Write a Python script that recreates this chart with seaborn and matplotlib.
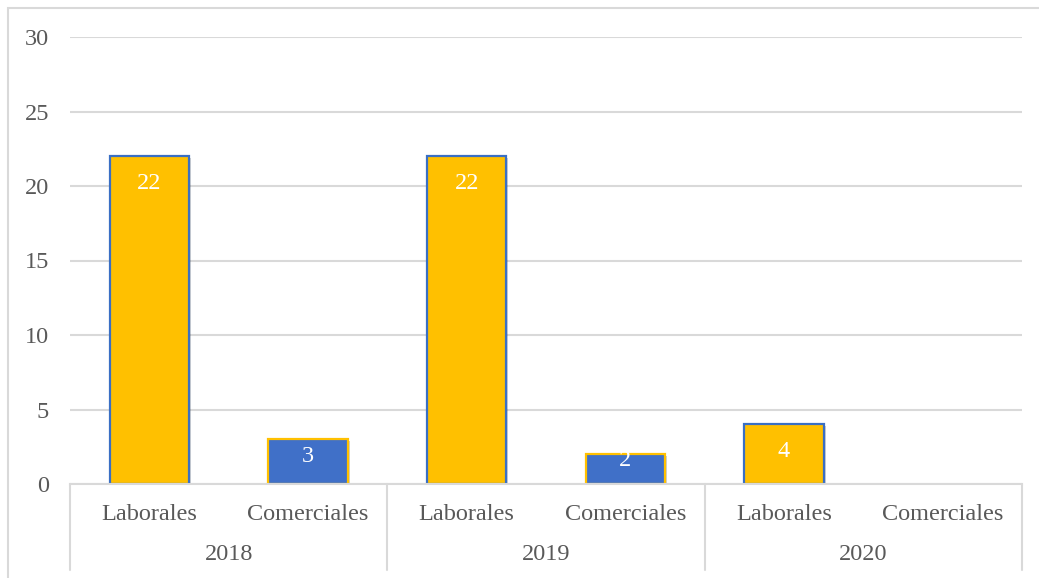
import matplotlib
matplotlib.use("Agg")
import matplotlib.pyplot as plt
import matplotlib.patheffects as pe
import matplotlib.transforms as mtransforms
from matplotlib.patches import Rectangle
import seaborn as sns
import pandas as pd

# Data
years = ["2018", "2019", "2020"]
tipos = ["Laborales", "Comerciales"]
laborales = [22, 22, 4]
comerciales = [3, 2, 0]
y_ticks = [0, 5, 10, 15, 20, 25, 30]

rows = []
for i, yr in enumerate(years):
    rows.append({"slot": f"{yr} Laborales", "anio": yr, "tipo": "Laborales", "valor": laborales[i]})
    rows.append({"slot": f"{yr} Comerciales", "anio": yr, "tipo": "Comerciales", "valor": comerciales[i]})
df = pd.DataFrame(rows)

fill = {"Laborales": "#FFC000", "Comerciales": "#4070C8"}
edge = {"Laborales": "#3A6FC4", "Comerciales": "#FFC000"}

sns.set_theme(style="white")
plt.rcParams["font.family"] = ["Liberation Serif", "DejaVu Serif"]
text_color = "#595959"
fs = 17.5

fig = plt.figure(figsize=(10.39, 5.78), dpi=100)
ax = fig.add_axes([70 / 1039, 1 - 484 / 578, (1022 - 70) / 1039, (484 - 37) / 578])

sns.barplot(data=df, x="slot", y="valor", hue="tipo", palette=fill,
            dodge=False, width=0.5, ax=ax, legend=False, saturation=1)

shadow = [pe.SimplePatchShadow(offset=(1.5, -1.5), shadow_rgbFace="#000000", alpha=0.18),
          pe.Normal()]
for tipo, cont in zip(tipos, ax.containers):
    for bar in cont.patches:
        if bar.get_height() <= 0:
            bar.set_visible(False)
            continue
        bar.set_edgecolor(edge[tipo])
        bar.set_linewidth(1.6)
        bar.set_path_effects(shadow)

# Value labels inside the bar ends
for idx, row in df.iterrows():
    v = row["valor"]
    if v <= 0:
        continue
    y = v - min(1.85, 0.7 * (v - 1.35))
    ax.text(idx, y, f"{v}", ha="center", va="center", color="white",
            fontsize=fs, zorder=5)

ax.set_ylim(0, 30)
ax.set_xlim(-0.5, len(df) - 0.5)
ax.set_yticks(y_ticks)
ax.yaxis.grid(True, color="#D9D9D9", linewidth=1.5)
ax.set_axisbelow(True)
ax.tick_params(axis="y", length=0, pad=15, labelsize=fs, labelcolor=text_color)
ax.tick_params(axis="x", length=0, labelbottom=False)
ax.set_xlabel("")
ax.set_ylabel("")
for s in ["left", "right", "top"]:
    ax.spines[s].set_visible(False)
ax.spines["bottom"].set_color("#D9D9D9")
ax.spines["bottom"].set_linewidth(1.5)

# Two-level category axis
trans = mtransforms.blended_transform_factory(ax.transData, ax.transAxes)
px = 1 / 447
for idx, row in df.iterrows():
    ax.text(idx, -30 * px, row["tipo"], transform=trans, ha="center", va="center",
            fontsize=fs, color=text_color)
for i, yr in enumerate(years):
    ax.text(2 * i + 0.5, -71 * px, yr, transform=trans, ha="center", va="center",
            fontsize=fs, color=text_color)
for xb in [-0.5, 1.5, 3.5, 5.5]:
    ax.plot([xb, xb], [0, -86 * px], transform=trans, color="#D9D9D9",
            linewidth=1.5, clip_on=False)

# Chart frame
fig.patches.append(Rectangle((8 / 1039, -0.02), 1.05, 1 - 8 / 578 + 0.02,
                             transform=fig.transFigure, fill=False,
                             edgecolor="#D9D9D9", linewidth=1.5))

fig.savefig("out.png", dpi=100)
